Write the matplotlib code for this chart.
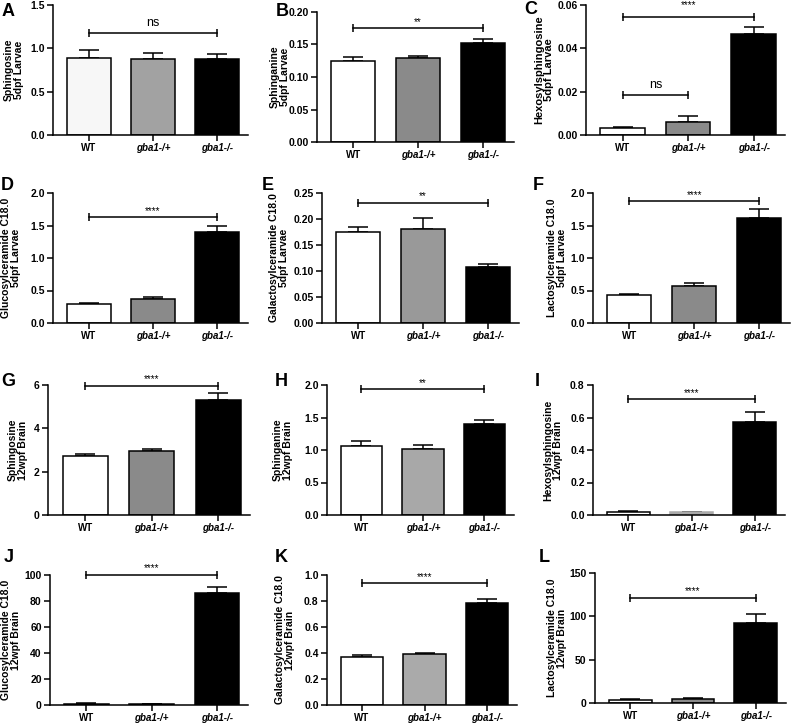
"""Sphingolipid levels in gba1 zebrafish larvae and adult brain, 12 bar panels"""
import numpy as np
import matplotlib
matplotlib.use('Agg')
import matplotlib.pyplot as plt
from matplotlib.ticker import FormatStrFormatter

plt.rcParams['font.family'] = ['Liberation Sans', 'DejaVu Sans']
plt.rcParams['font.weight'] = 'bold'
plt.rcParams['axes.labelweight'] = 'bold'

groups = ['WT', 'gba1-/+', 'gba1-/-']
letters = list('ABCDEFGHIJKL')

ylabels = [
    'Sphingosine\n5dpf Larvae',
    'Sphinganine\n5dpf Larvae',
    'Hexosylsphingosine\n5dpf Larvae',
    'Glucosylceramide C18.0\n5dpf Larvae',
    'Galactosylceramide C18.0\n5dpf Larvae',
    'Lactosylceramide C18.0\n5dpf Larvae',
    'Sphingosine\n12wpf Brain',
    'Sphinganine\n12wpf Brain',
    'Hexosylsphingosine\n12wpf Brain',
    'Glucosylceramide C18.0\n12wpf Brain',
    'Galactosylceramide C18.0\n12wpf Brain',
    'Lactosylceramide C18.0\n12wpf Brain',
]

# means and (upper) SEM, order: WT, gba1-/+, gba1-/-
sph_larvae = [0.885, 0.877, 0.877]
sph_larvae_err = [0.10, 0.065, 0.054]
spa_larvae = [0.1246, 0.1287, 0.1528]
spa_larvae_err = [0.0062, 0.0036, 0.0052]
hexsph_larvae = [0.0031, 0.0062, 0.0468]
hexsph_larvae_err = [0.0004, 0.0026, 0.0030]
glccer_larvae = [0.297, 0.369, 1.40]
glccer_larvae_err = [0.016, 0.031, 0.087]
galcer_larvae = [0.1744, 0.1814, 0.1083]
galcer_larvae_err = [0.0096, 0.0212, 0.0045]
laccer_larvae = [0.428, 0.562, 1.613]
laccer_larvae_err = [0.015, 0.057, 0.145]
sph_brain = [2.738, 2.954, 5.308]
sph_brain_err = [0.077, 0.092, 0.307]
spa_brain = [1.062, 1.010, 1.405]
spa_brain_err = [0.082, 0.072, 0.057]
hexsph_brain = [0.0205, 0.0205, 0.570]
hexsph_brain_err = [0.004, 0.0, 0.066]
glccer_brain = [1.0, 0.6, 86.4]
glccer_brain_err = [0.2, 0.1, 4.6]
galcer_brain = [0.372, 0.390, 0.782]
galcer_brain_err = [0.013, 0.013, 0.033]
laccer_brain = [3.85, 4.2, 92.3]
laccer_brain_err = [1.15, 1.2, 10.8]

means = [sph_larvae, spa_larvae, hexsph_larvae, glccer_larvae, galcer_larvae,
         laccer_larvae, sph_brain, spa_brain, hexsph_brain, glccer_brain,
         galcer_brain, laccer_brain]
errors = [sph_larvae_err, spa_larvae_err, hexsph_larvae_err, glccer_larvae_err,
          galcer_larvae_err, laccer_larvae_err, sph_brain_err, spa_brain_err,
          hexsph_brain_err, glccer_brain_err, galcer_brain_err, laccer_brain_err]

ymax = [1.5, 0.20, 0.06, 2.0, 0.25, 2.0, 6, 2.0, 0.8, 100, 1.0, 150]
ystep = [0.5, 0.05, 0.02, 0.5, 0.05, 0.5, 2, 0.5, 0.2, 20, 0.2, 50]
yfmt = ['%.1f', '%.2f', '%.2f', '%.1f', '%.2f', '%.1f',
        '%d', '%.1f', '%.1f', '%d', '%.1f', '%d']

# significance brackets: (panel, from group, to group, height, label)
brackets = [
    (0, 0, 2, 1.18, 'ns'),
    (1, 0, 2, 0.175, '**'),
    (2, 0, 2, 0.0546, '****'),
    (2, 0, 1, 0.0185, 'ns'),
    (3, 0, 2, 1.626, '****'),
    (4, 0, 2, 0.231, '**'),
    (5, 0, 2, 1.871, '****'),
    (6, 0, 2, 5.97, '****'),
    (7, 0, 2, 1.938, '**'),
    (8, 0, 2, 0.714, '****'),
    (9, 0, 2, 100.3, '****'),
    (10, 0, 2, 0.936, '****'),
    (11, 0, 2, 121.2, '****'),
]

# layout, in pixels of the 792x723 figure: left, right, top, bottom of each axes
W, H = 792, 723
rects = [
    (53, 248, 5, 135), (317, 514, 12, 142), (586, 785, 5, 135),
    (53, 248, 193, 323), (322, 519, 193, 323), (593, 790, 193, 323),
    (48, 250, 385, 515), (327, 514, 385, 515), (593, 785, 385, 515),
    (50, 248, 575, 705), (327, 517, 575, 705), (595, 786, 573, 703),
]
ylabel_dx = [-39, -37, -42, -42, -43, -36, -30, -44, -40, -39, -42, -38]
letter_xy = [(8, 11), (282, 12), (531, 9), (7, 185), (268, 185), (538, 185),
             (8, 382), (281, 382), (537, 382), (9, 558), (281, 558), (544, 558)]
het_color = ['#a2a2a2', '#8a8a8a', '#8a8a8a', '#8a8a8a', '#999999', '#8a8a8a',
             '#8a8a8a', '#a8a8a8', '#aaaaaa', '#b0b0b0', '#aaaaaa', '#8a8a8a']
wt_color = ['#f7f7f7'] + ['white'] * 11

LW = 1.1


def draw_panel(fig, k):
    """Draw one bar panel with its errors, ticks and label"""
    l, r, t, b = rects[k]
    ax = fig.add_axes([l / W, 1 - b / H, (r - l) / W, (b - t) / H])
    x = np.arange(3)
    fills = [wt_color[k], het_color[k], 'black']
    edges = ['black', het_color[k] if k == 8 else 'black', 'black']
    ax.bar(x, means[k], width=0.68, color=fills, edgecolor=edges,
           linewidth=LW, zorder=2)
    err = np.array(errors[k])
    ax.errorbar(x, means[k], yerr=[np.zeros(3), err], fmt='none',
                ecolor='black', elinewidth=LW, capsize=7.5, capthick=LW,
                zorder=1)

    ax.set_xlim(-0.56, 2.48)
    ax.set_ylim(0, ymax[k])
    ax.set_yticks(np.arange(0, ymax[k] + ystep[k] / 2, ystep[k]))
    ax.yaxis.set_major_formatter(FormatStrFormatter(yfmt[k]))
    ax.set_xticks(x)
    ax.set_xticklabels(groups)
    for lab in ax.get_xticklabels()[1:]:
        lab.set_style('italic')

    for side in ('top', 'right'):
        ax.spines[side].set_visible(False)
    for side in ('left', 'bottom'):
        ax.spines[side].set_linewidth(LW)
    ax.tick_params(axis='both', direction='out', length=4, width=LW,
                   labelsize=7.5, pad=2)
    ax.tick_params(axis='x', labelsize=7)

    size = 8 if k == 2 else 7.5
    ax.set_ylabel(ylabels[k], fontsize=size, fontweight='bold', va='center',
                  linespacing=1.0)
    ax.yaxis.set_label_coords(ylabel_dx[k] / (r - l), 0.5)

    lx, ly = letter_xy[k]
    fig.text(lx / W, 1 - ly / H, letters[k], fontsize=13, ha='center',
             va='center')
    return ax


def draw_bracket(ax, i, j, y, text, big=False):
    """Horizontal bracket between two bars with its label above"""
    ax.plot([i, j], [y, y], color='black', lw=LW, marker='|', ms=6,
            mew=LW, clip_on=False, zorder=3)
    if text == 'ns':
        ax.annotate(text, xy=((i + j) / 2, y), xytext=(0, 3),
                    textcoords='offset points', ha='center', va='bottom',
                    fontsize=9, fontweight='normal', annotation_clip=False)
    else:
        ax.annotate(text, xy=((i + j) / 2, y), xytext=(0, 5 if big else 1),
                    textcoords='offset points', ha='center', va='bottom',
                    fontsize=7, fontweight='normal', annotation_clip=False)


fig = plt.figure(figsize=(W / 100, H / 100), dpi=100)
axes = [draw_panel(fig, k) for k in range(12)]
for k, i, j, y, text in brackets:
    draw_bracket(axes[k], i, j, y, text, big=(k == 2))

fig.savefig('out.png', dpi=100)
